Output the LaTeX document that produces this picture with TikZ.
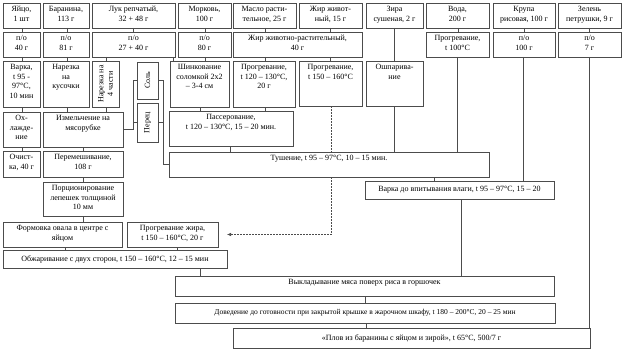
\documentclass[tikz,border=0pt]{standalone}
\usepackage{fontspec}
\setmainfont{Liberation Serif}
\usetikzlibrary{arrows.meta,shadows}
\tikzset{
 box/.style={draw=black!70, line width=0.7pt, fill=white, rectangle, inner sep=0pt, outer sep=0pt,
   drop shadow={shadow xshift=0.8pt, shadow yshift=-0.8pt, fill=black!30, opacity=1}},
 txt/.style={font=\fontsize{8}{9.6}\selectfont, align=center, inner sep=3.2pt},
 ln/.style={draw=black!70, line width=0.6pt},
 dl/.style={ln, dash pattern=on 1.6pt off 1.4pt},
}
\newcommand\bx[6]{\node[box, minimum width={(#4-#2)*1pt}, minimum height={(#5-#3)*1pt}] (#1) at ({(#2+#4)/2},{(#3+#5)/2}) {};\node[txt, anchor=north] (#1t) at (#1.north) {#6};}
\newcommand\bxc[6]{\node[box, minimum width={(#4-#2)*1pt}, minimum height={(#5-#3)*1pt}] (#1) at ({(#2+#4)/2},{(#3+#5)/2}) {};\node[txt] (#1t) at (#1.center) {#6};}
\newcommand\bxr[6]{\node[box, minimum width={(#4-#2)*1pt}, minimum height={(#5-#3)*1pt}] (#1) at ({(#2+#4)/2},{(#3+#5)/2}) {};\node[txt, rotate=90] (#1t) at (#1.center) {#6};}
\begin{document}
\begin{tikzpicture}[x=1pt,y=-1pt]
\useasboundingbox (0,0) rectangle (623,353);
% row 1
\bx{r1a}{3}{3}{40}{28}{Яйцо,\\ 1 шт}
\bx{r1b}{43}{3}{89}{28}{Баранина,\\ 113 г}
\bx{r1c}{92}{3}{175}{28}{Лук репчатый,\\ 32 + 48 г}
\bx{r1d}{178}{3}{231}{28}{Морковь,\\ 100 г}
\bx{r1e}{233}{3}{296}{28}{Масло расти-\\ тельное, 25 г}
\bx{r1f}{299}{3}{362}{28}{Жир живот-\\ ный, 15 г}
\bx{r1g}{366}{3}{423}{28}{Зира\\ сушеная, 2 г}
\bx{r1h}{426}{3}{489}{28}{Вода,\\ 200 г}
\bx{r1i}{493}{3}{555}{28}{Крупа\\ рисовая, 100 г}
\bx{r1j}{558}{3}{621}{28}{Зелень\\ петрушки, 9 г}
% row 2
\bx{r2a}{3}{32}{40}{57}{п/о\\ 40 г}
\bx{r2b}{43}{32}{89}{57}{п/о\\ 81 г}
\bx{r2c}{92}{32}{175}{57}{п/о\\ 27 + 40 г}
\bx{r2d}{178}{32}{231}{57}{п/о\\ 80 г}
\bx{r2e}{233}{32}{362}{57}{Жир животно-растительный,\\ 40 г}
\bx{r2h}{426}{32}{489}{57}{Прогревание,\\ t 100°С}
\bx{r2i}{493}{32}{555}{57}{п/о\\ 100 г}
\bx{r2j}{558}{32}{621}{57}{п/о\\ 7 г}
% row 3
\bx{varka}{3}{61}{40}{107}{Варка,\\ t 95 -\\ 97°С,\\ 10 мин}
\bx{narez}{43}{61}{89}{107}{Нарезка\\ на\\ кусочки}
\bxr{narez4}{92}{61}{119}{107}{Нарезка на\\ 4 части}
\bxr{sol}{137}{62}{158}{99}{Соль}
\bxr{per}{137}{103}{158}{142}{Перец}
\bx{shink}{170}{61}{229}{107}{Шинкование\\ соломкой 2х2\\ – 3-4 см}
\bx{pr120}{233}{61}{295}{107}{Прогревание,\\ t 120 – 130°С,\\ 20 г}
\bx{pr150}{299}{61}{362}{106}{Прогревание,\\ t 150 – 160°С}
\bx{oshp}{366}{61}{423}{106}{Ошпарива-\\ ние}
% row 4 and below
\bx{ohl}{3}{112}{40}{147}{Ох-\\ лажде-\\ ние}
\bx{izm}{43}{112}{123}{147}{Измельчение на\\ мясорубке}
\bx{pass}{169}{111}{293}{146}{Пассерование,\\ t 120 – 130°С, 15 – 20 мин.}
\bx{och}{3}{151}{40}{177}{Очист-\\ ка, 40 г}
\bx{perem}{43}{151}{123}{177}{Перемешивание,\\ 108 г}
\bx{tush}{169}{152}{489}{177}{Тушение, t 95 – 97°С, 10 – 15 мин.}
\bx{porc}{43}{182}{123}{216}{Порционирование\\ лепешек толщиной\\ 10 мм}
\bxc{varka2}{365}{181}{554}{199}{Варка до впитывания влаги, t 95 – 97°С, 15 – 20}
\bx{form}{3}{222}{122}{247}{Формовка овала в центре с\\ яйцом}
\bx{przh}{127}{222}{218}{247}{Прогревание жира,\\ t 150 – 160°С, 20 г}
\bxc{obzh}{3}{250}{227}{268}{Обжаривание с двух сторон, t 150 – 160°С, 12 – 15 мин}
\bx{vykl}{175}{276}{554}{296}{Выкладывание мяса поверх риса в горшочек}
\bxc{dov}{175}{303}{555}{323}{\fontsize{7.5}{9}\selectfont Доведение до готовности при закрытой крышке в жарочном шкафу, t 180 – 200°С, 20 – 25 мин}
\bxc{plov}{233}{328}{590}{348}{«Плов из баранины с яйцом и зирой», t  65°С, 500/7 г}
% connectors
\foreach \a/\b/\x in {r1a/r2a/22, r1b/r2b/67, r1c/r2c/133, r1d/r2d/205, r1e/r2e/265, r1f/r2e/330, r1h/r2h/458, r1i/r2i/524, r1j/r2j/589, r1g/oshp/394, r2a/varka/22, r2b/narez/67, r2c/narez4/106, r2c/shink/173, r2d/shink/205, r2e/pr120/265, r2e/pr150/330, r2h/tush/457, r2i/varka2/523, r2j/plov/589, varka/ohl/22, narez/izm/67, narez4/izm/106, shink/pass/200, pr120/pass/265, oshp/tush/394, ohl/och/22, izm/perem/83, perem/porc/83, porc/form/83, pass/tush/230, tush/varka2/434, form/obzh/65, przh/obzh/177, obzh/vykl/200, varka2/vykl/461, vykl/dov/365, dov/plov/366}
  \draw[ln] (\a.south -| \x,0) -- (\b.north -| \x,0);
\draw[ln] (sol.west) -- ++(-4,0) |- (izm.east);
\draw[ln] (per.west) -- ++(-4,0);
\draw[ln] (sol.east) -- ++(5,0) |- (tush.west);
\draw[ln] (per.east) -- ++(5,0);
\draw[dl] (pr150.south -| 331,0) -- (tush.north -| 331,0);
\draw[dl, -{Latex[length=4pt,width=3.5pt]}] (tush.south -| 331,0) |- ([xshift=9pt]przh.east);
\end{tikzpicture}
\end{document}
